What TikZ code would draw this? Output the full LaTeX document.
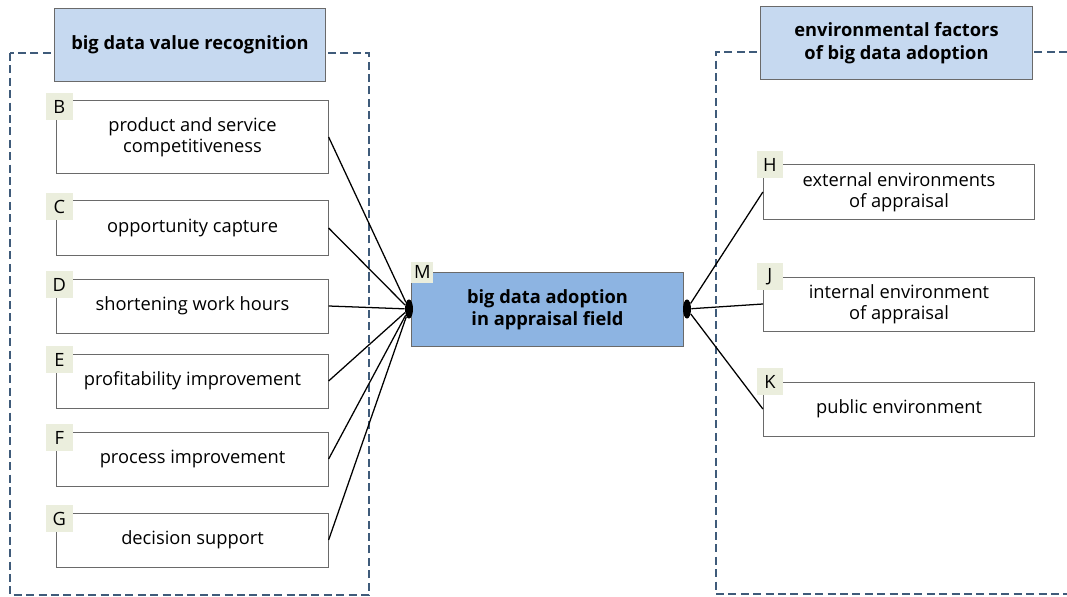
\documentclass[tikz,border=0pt]{standalone}
\usepackage{fontspec}
\setmainfont{Open Sans}
\usepackage{xcolor}
\usetikzlibrary{shapes,arrows,positioning,calc}

\definecolor{titleblue}{HTML}{C6D9F0}
\definecolor{coreblue}{HTML}{8DB4E2}
\definecolor{tagfill}{HTML}{EBEEDD}
\definecolor{framecol}{HTML}{3F5B7A}
\definecolor{edgegrey}{HTML}{6A6A6A}

\begin{document}
\begin{tikzpicture}[x=0.025cm, y=-0.025cm,
    every node/.style={font=\fontsize{13}{15}\selectfont},
    frame/.style={draw=framecol, line width=2.1pt, dash pattern=on 0.2cm off 0.11cm},
    title/.style={rectangle, draw=edgegrey, fill=titleblue, line width=0.7pt, minimum width=6.78cm, minimum height=1.8cm, align=center, font=\fontsize{13}{16}\selectfont\bfseries},
    box/.style={rectangle, draw=edgegrey, fill=white, line width=0.7pt, minimum width=6.78cm, minimum height=1.35cm, align=center},
    core/.style={box, fill=coreblue, minimum height=1.83cm, font=\fontsize{13}{16}\selectfont\bfseries},
    tag/.style={rectangle, fill=tagfill, minimum width=0.66cm, minimum height=0.68cm, inner sep=0pt},
    dot/.style={ellipse, fill=black, minimum width=0.2cm, minimum height=0.48cm, inner sep=0pt},
    link/.style={line width=0.9pt}
]
\useasboundingbox (0,0) rectangle (1067,597);

% Frames
\draw[frame] (10,53) rectangle (369,595);
\draw[frame] (1067,52) -| (716,594) -- (1067,594);

% Titles
\node[title] (valtitle) at (190,45) {big data value recognition};
\node[title] (envtitle) at (896.5,43) {environmental factors\\of big data adoption};

% Value recognition factors
\node[box, minimum height=1.8cm] (b) at (192.5,137) {product and service\\competitiveness};
\node[box] (c) at (192.5,228) {opportunity capture};
\node[box] (d) at (192.5,306) {shortening work hours};
\node[box] (e) at (192.5,381) {profitability improvement};
\node[box] (f) at (192.5,459) {process improvement};
\node[box] (g) at (192.5,540) {decision support};

% Adoption
\node[core] (m) at (547.5,309.5) {big data adoption\\in appraisal field};

% Environmental factors
\node[box] (h) at (899,192) {external environments\\of appraisal};
\node[box] (j) at (899,304) {internal environment\\of appraisal};
\node[box] (k) at (899,409) {public environment};

% Letter tags
\node[tag] (tb) at ($(b.north west)+(3,6)$) {B};
\node[tag] (tc) at ($(c.north west)+(3,6)$) {C};
\node[tag] (td) at ($(d.north west)+(3,6)$) {D};
\node[tag] (te) at ($(e.north west)+(3,6)$) {E};
\node[tag] (tf) at ($(f.north west)+(3,6)$) {F};
\node[tag] (tg) at ($(g.north west)+(3,6)$) {G};
\node[tag, minimum width=0.55cm, minimum height=0.52cm] (tm) at ($(m.north west)+(11,0)$) {M};
\node[tag] (th) at ($(h.north west)+(7,0)$) {H};
\node[tag] (tj) at ($(j.north west)+(7,0)$) {J};
\node[tag] (tk) at ($(k.north west)+(7,0)$) {K};

% Joints
\node[dot] (ml) at (409,309) {};
\node[dot] (mr) at (687,309) {};

% Links
\draw[link] (b.east) -- (ml);
\draw[link] (c.east) -- (ml);
\draw[link] (d.east) -- (ml);
\draw[link] (e.east) -- (ml);
\draw[link] (f.east) -- (ml);
\draw[link] (g.east) -- (ml);
\draw[link] (mr) -- (h.west);
\draw[link] (mr) -- (j.west);
\draw[link] (mr) -- (k.west);

\end{tikzpicture}
\end{document}
